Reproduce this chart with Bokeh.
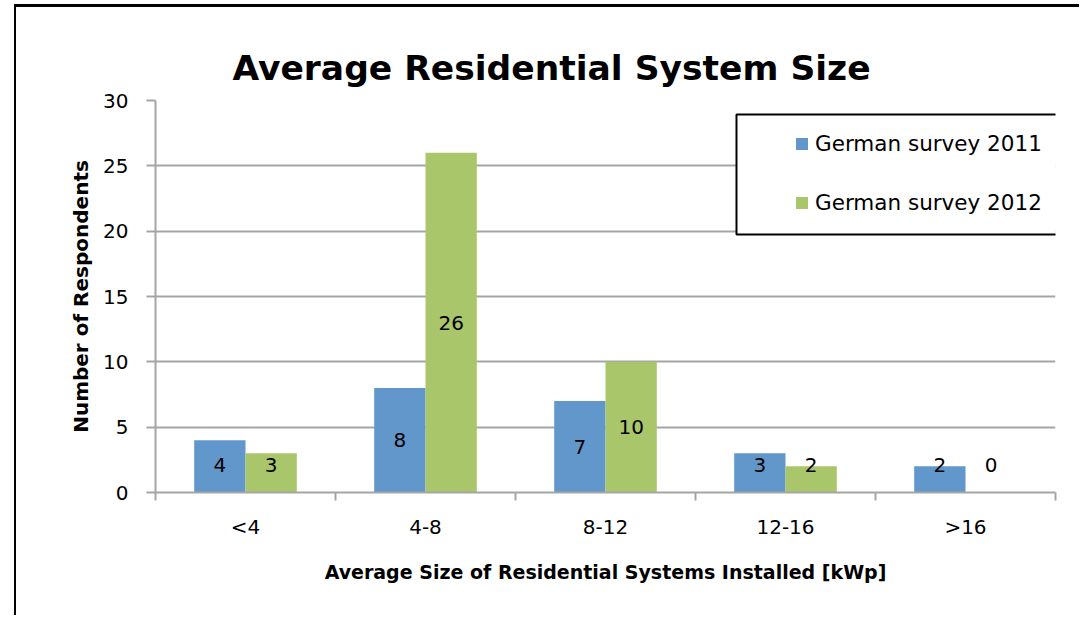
from bokeh.plotting import figure
from bokeh.models import (ColumnDataSource, Range1d, FixedTicker, Legend, LegendItem,
                          LabelSet, BoxAnnotation)
from bokeh.core.properties import value
from bokeh.embed import file_html
from bokeh.resources import INLINE

categories = ["<4", "4-8", "8-12", "12-16", ">16"]
survey_2011 = [4, 8, 7, 3, 2]
survey_2012 = [3, 26, 10, 2, 0]
series_names = ["German survey 2011", "German survey 2012"]
y_ticks = [0, 5, 10, 15, 20, 25, 30]

FONT = "DejaVu Sans"
BLUE = "#6197CB"
GREEN = "#AAC66A"
GRID = "#A5A5A5"
BAR_W = 0.285

# canvas offset produced by the chart-area border (left / top)
OX, OY = 16, 7

centers = [i + 0.5 for i in range(len(categories))]
src = ColumnDataSource(dict(
    x11=[c - BAR_W / 2 for c in centers],
    x12=[c + BAR_W / 2 for c in centers],
    v11=survey_2011,
    v12=survey_2012,
    l11=[max(v / 2, 2.1) for v in survey_2011],
    l12=[max(v / 2, 2.1) for v in survey_2012],
    t11=[str(v) for v in survey_2011],
    t12=[str(v) for v in survey_2012],
))

W, H = 1081 - OX, 618 - OY
p = figure(width=W, height=H, output_backend="svg", toolbar_location=None,
           x_range=Range1d(0, len(categories)), y_range=Range1d(0, 30),
           min_border_left=155 - OX, min_border_right=1081 - 1055,
           min_border_top=100 - OY, min_border_bottom=618 - 492)
p.styles = {"margin-left": "14px", "margin-top": "4px",
            "border-left": "2px solid black", "border-top": "3px solid black"}
p.outline_line_color = None
p.background_fill_color = "white"
p.border_fill_color = "white"

r11 = p.vbar(x="x11", top="v11", width=BAR_W, source=src, fill_color=BLUE, line_color=None)
r12 = p.vbar(x="x12", top="v12", width=BAR_W, source=src, fill_color=GREEN, line_color=None)

# data labels
for xc, yc, tc in (("x11", "l11", "t11"), ("x12", "l12", "t12")):
    p.add_layout(LabelSet(x=xc, y=yc, text=tc, source=src, text_align="center",
                          text_baseline="middle", text_font=value(FONT),
                          text_font_size="20px", text_color="black"))

# grid
p.xgrid.grid_line_color = None
p.ygrid.grid_line_color = GRID
p.ygrid.grid_line_width = 2
p.ygrid.ticker = FixedTicker(ticks=y_ticks[1:])

# y axis
ya = p.yaxis[0]
ya.ticker = FixedTicker(ticks=y_ticks)
ya.axis_line_color = GRID
ya.axis_line_width = 2
ya.major_tick_line_color = GRID
ya.major_tick_line_width = 2
ya.major_tick_out = 9
ya.major_tick_in = 0
ya.minor_tick_line_color = None
ya.major_label_standoff = 18
ya.major_label_text_font = FONT
ya.major_label_text_font_size = "20px"
ya.major_label_text_color = "black"
ya.axis_label = "Number of Respondents"
ya.axis_label_text_font = FONT
ya.axis_label_text_font_style = "bold"
ya.axis_label_text_font_size = "20px"
ya.axis_label_text_color = "black"
ya.axis_label_standoff = 7

# x axis
xa = p.xaxis[0]
xa.ticker = FixedTicker(ticks=centers, minor_ticks=list(range(len(categories) + 1)))
xa.major_label_overrides = {c: lab for c, lab in zip(centers, categories)}
xa.axis_line_color = GRID
xa.axis_line_width = 2
xa.major_tick_line_color = None
xa.major_tick_out = 0
xa.major_tick_in = 0
xa.minor_tick_line_color = GRID
xa.minor_tick_line_width = 2
xa.minor_tick_out = 8
xa.minor_tick_in = 0
xa.major_label_standoff = 14
xa.major_label_text_font = FONT
xa.major_label_text_font_size = "20px"
xa.major_label_text_color = "black"
xa.axis_label = "Average Size of Residential Systems Installed [kWp]"
xa.axis_label_text_font = FONT
xa.axis_label_text_font_style = "bold"
xa.axis_label_text_font_size = "19px"
xa.axis_label_text_color = "black"
xa.axis_label_standoff = 19

# legend box
p.add_layout(BoxAnnotation(left=734 - OX, right=1200, top=111 - OY, bottom=231 - OY,
                           left_units="canvas", right_units="canvas",
                           top_units="canvas", bottom_units="canvas",
                           fill_color="white", fill_alpha=1.0,
                           line_color="black", line_alpha=1.0, line_width=2))

legend = Legend(items=[LegendItem(label=series_names[0], renderers=[r11]),
                       LegendItem(label=series_names[1], renderers=[r12])],
                location=(639, 277), orientation="vertical",
                glyph_width=15, glyph_height=15, label_standoff=6, spacing=34,
                padding=0, margin=0, border_line_color=None, background_fill_alpha=0,
                label_text_font=FONT, label_text_font_size="21.5px", label_text_color="black")
p.add_layout(legend, "center")

# title
p.title.text = "Average Residential System Size"
p.title.align = "left"
p.title.offset = 77
p.title.standoff = 25
p.title.text_font = FONT
p.title.text_font_style = "bold"
p.title.text_font_size = "34.5px"
p.title.text_color = "black"

open("out.html", "w").write(file_html(p, INLINE))
